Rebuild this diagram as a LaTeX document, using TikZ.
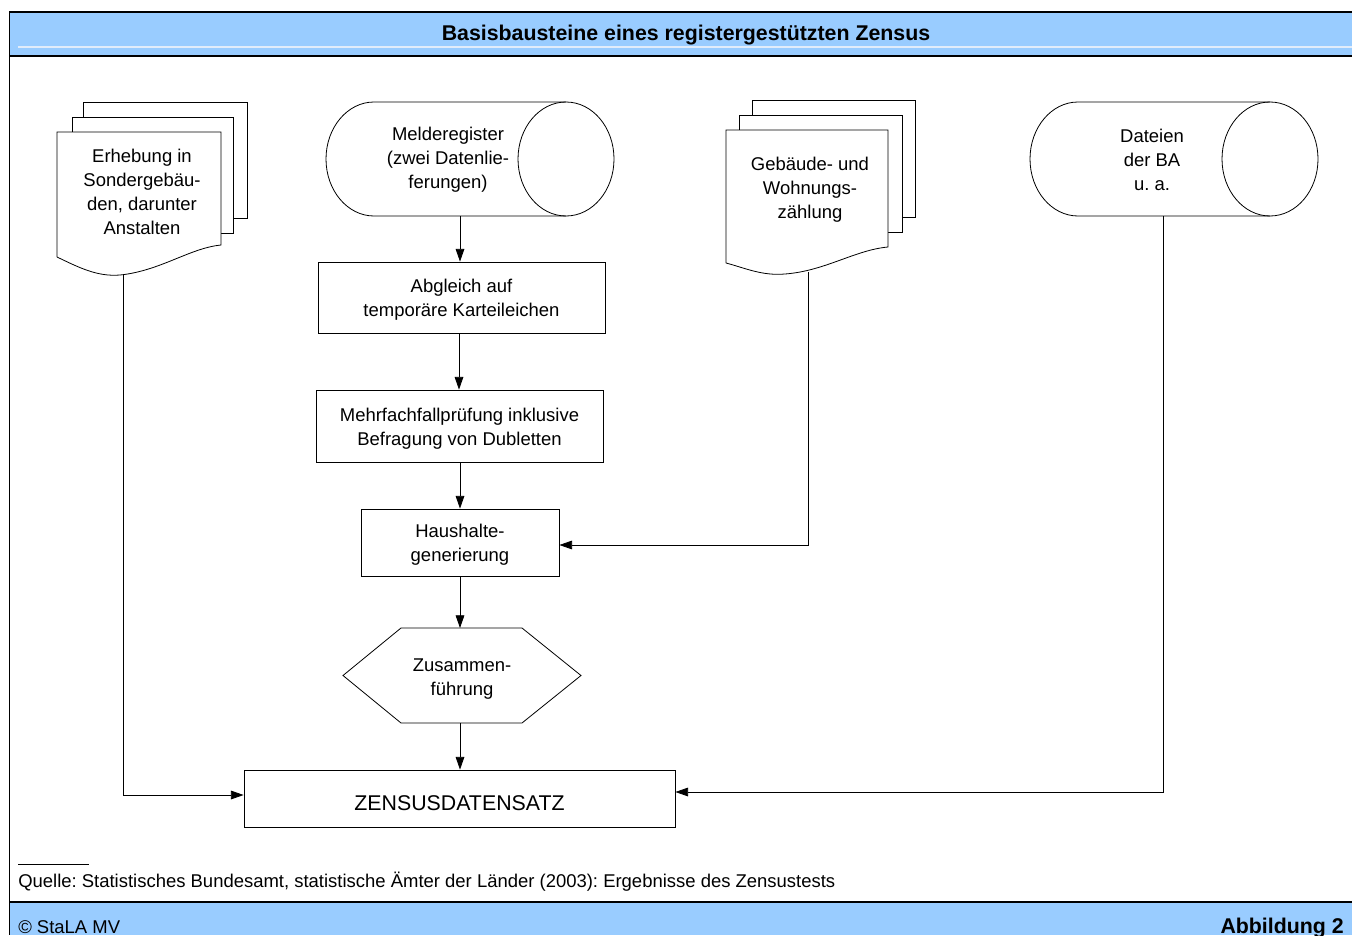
\documentclass[tikz,border=0pt]{standalone}
\usepackage{fontspec}
\setmainfont{Liberation Sans}
\usetikzlibrary{arrows.meta}
\definecolor{bandblue}{RGB}{153,204,255}
\definecolor{bandline}{RGB}{225,236,250}
\newcommand{\fsbody}{\fontsize{13.85}{18}\selectfont}
\newcommand{\fsbig}{\fontsize{16}{19}\selectfont}
\frenchspacing
\begin{document}
\begin{tikzpicture}[x=0.75pt,y=-0.75pt,
  shp/.style={draw=black,line width=0.6pt},
  frame/.style={draw=black,line width=1.3pt},
  txt/.style={inner sep=0pt,align=center,font=\fsbody,yshift=-2pt},
  box/.style={draw=black,line width=0.6pt,inner sep=0pt},
  boxtext/.style={label={[txt]center:{#1}}},
  arr/.style={draw=black,line width=0.6pt,-{Triangle[length=9.5pt,width=6.5pt]}}]
\useasboundingbox (0,0) rectangle (1352,935);
\fill[white] (0,0) rectangle (1352,935);
% header band
\fill[bandblue] (9.5,12) rectangle (1352,56);
\draw[bandline,line width=1.5pt] (18,46.5) -- (1352,46.5);
\draw[frame] (1352,12) -- (9.5,12) -- (9.5,935);
\draw[frame] (9.5,56) -- (1352,56);
\node[inner sep=0pt,font=\fsbig\bfseries] (title) at (686,35) {Basisbausteine eines registergestützten Zensus};
% footer band
\fill[bandblue] (9.5,902) rectangle (1352,935);
\draw[frame] (9.5,902) -- (1352,902);
\draw[frame] (9.5,56) -- (9.5,935);
\draw[line width=0.6pt] (18,864) -- (89,864);
\node[inner sep=0pt,anchor=base west,font=\fsbody] (quelle) at (18,887) {Quelle: Statistisches Bundesamt, statistische Ämter der Länder (2003): Ergebnisse des Zensustests};
\node[inner sep=0pt,anchor=base west,font=\fsbody] (copy) at (18,933) {© StaLA MV};
\node[inner sep=0pt,anchor=base east,font=\fsbig\bfseries] (abb) at (1344,933) {Abbildung 2};
% document stack: Erhebung
\draw[shp] (83,117) -- (83,102) -- (247,102) -- (247,218) -- (233,218);
\draw[shp] (72,132) -- (72,117) -- (233,117) -- (233,233) -- (221,233);
\draw[shp,fill=white] (57,257) -- (57,132) -- (221,132) -- (221,245)
  .. controls (190,248) and (160,271) .. (120,275)
  .. controls (97,277) and (78,267) .. (57,257);
\node[txt] (erh) at (142,189) {Erhebung in\\Sondergebäu-\\den, darunter\\Anstalten};
\coordinate (erhB) at (123,275);
% document stack: Gebaeude
\draw[shp] (752,115) -- (752,100) -- (915,100) -- (915,217) -- (902,217);
\draw[shp] (739,130) -- (739,115) -- (902,115) -- (902,232) -- (888,232);
\draw[shp,fill=white] (726,263) -- (726,130) -- (888,130) -- (888,247)
  .. controls (855,250) and (825,271) .. (785,274)
  .. controls (762,276) and (745,268) .. (726,263);
\node[txt] (geb) at (810,187) {Gebäude- und\\Wohnungs-\\zählung};
\coordinate (gebB) at (808,272);
% cylinder: Melderegister
\draw[shp] (566,102) -- (374,102) arc[start angle=270,end angle=90,x radius=48,y radius=57] -- (566,216);
\draw[shp] (566,159) ellipse [x radius=48,y radius=57];
\node[txt] (mel) at (448,157) {Melderegister\\(zwei Datenlie-\\ferungen)};
\coordinate (melB) at (460,216);
% cylinder: Dateien
\draw[shp] (1270,102) -- (1078,102) arc[start angle=270,end angle=90,x radius=48,y radius=57] -- (1270,216);
\draw[shp] (1270,159) ellipse [x radius=48,y radius=57];
\node[txt] (dat) at (1152,157) {Dateien\\der BA\\u. a.};
\coordinate (datB) at (1163,216);
% process boxes
\node[box,minimum width=287*0.75pt,minimum height=71*0.75pt,boxtext={Abgleich auf\\temporäre Karteileichen}] (abg) at (461.5,297.5) {};
\node[box,minimum width=287*0.75pt,minimum height=72*0.75pt,boxtext={Mehrfachfallprüfung inklusive\\Befragung von Dubletten}] (mehr) at (459.5,426) {};
\node[box,minimum width=198*0.75pt,minimum height=67*0.75pt,boxtext={Haushalte-\\generierung}] (haus) at (460,542.5) {};
% hexagon
\coordinate (hxT) at (460,628);
\coordinate (hxB) at (460,723);
\draw[shp] (343,675.5) -- (401,628) -- (522,628) -- (581,675.5) -- (522,723) -- (401,723) -- cycle;
\node[txt] (zus) at (462,676) {Zusammen-\\führung};
% final box
\node[box,minimum width=431*0.75pt,minimum height=57*0.75pt] (zen) at (459.5,798.5) {};
\node[inner sep=0pt,font=\fsbig] (zent) at (459.5,803) {ZENSUSDATENSATZ};
% connectors
\draw[arr] (melB) -- (melB |- abg.north);
\draw[arr] (abg.south -| 459,0) -- (mehr.north -| 459,0);
\draw[arr] (mehr.south -| 460,0) -- (haus.north);
\draw[arr] (haus.south) -- (hxT);
\draw[arr] (hxB) -- (zen.north -| hxB);
\draw[arr] (erhB) -- (123,795) -- (zen.west |- 0,795);
\draw[arr] (gebB) -- (808,545) -- (haus.east |- 0,545);
\draw[arr] (datB) -- (1163,792) -- (zen.east |- 0,792);
\end{tikzpicture}
\end{document}
